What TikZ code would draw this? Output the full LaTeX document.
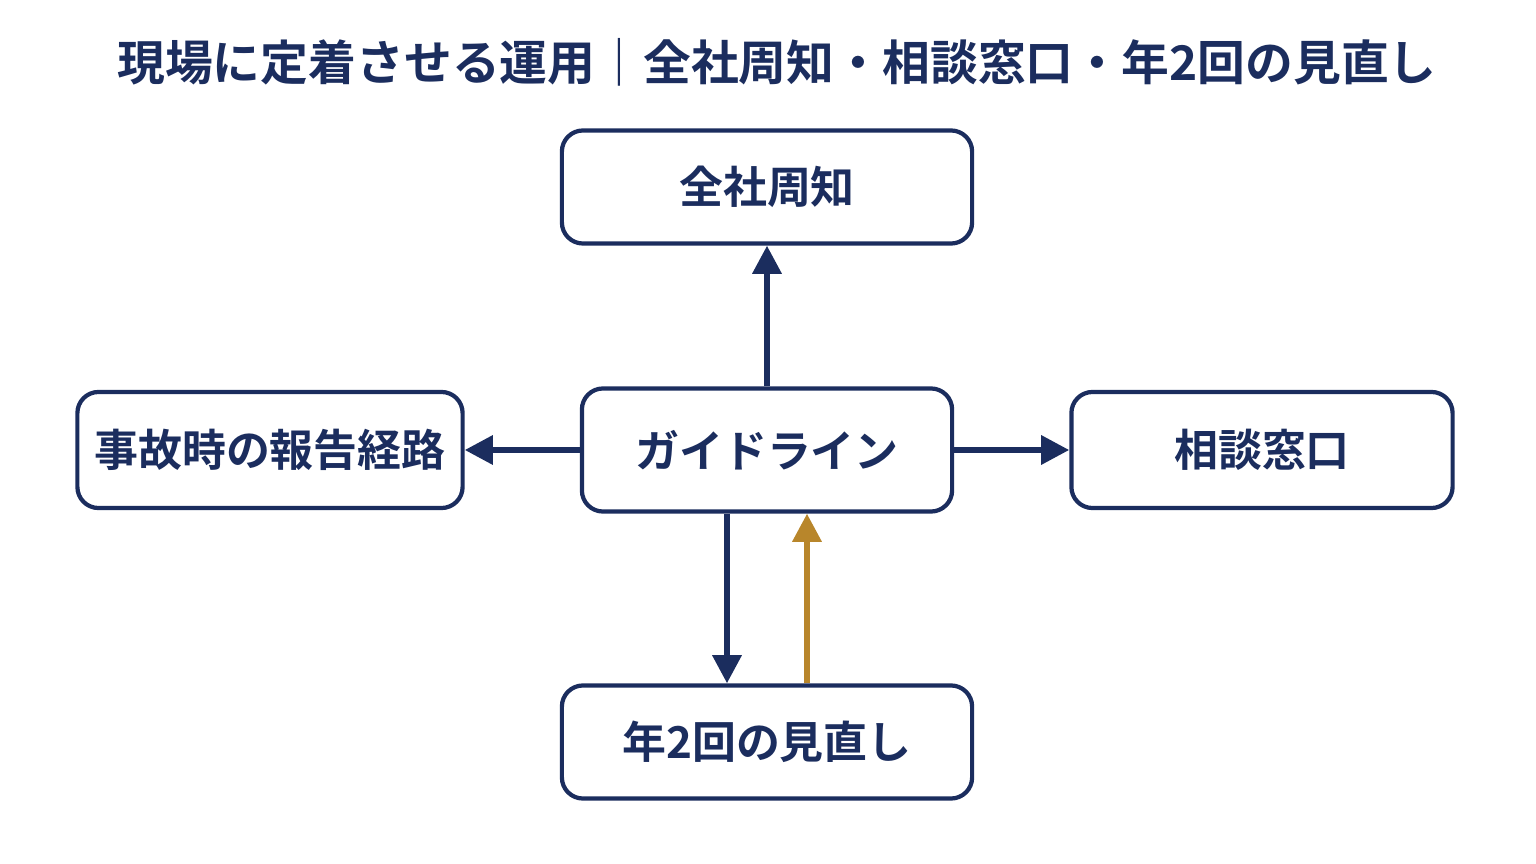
\documentclass[tikz,border=0pt]{standalone}
\usepackage{fontspec}
\setmainfont{Noto Sans CJK JP}[BoldFont={Noto Sans CJK JP Bold}]
\usetikzlibrary{arrows.meta}
\definecolor{navy}{HTML}{1B2D5E}
\definecolor{gold}{HTML}{B8862B}
\tikzset{
  box/.style={draw=navy, line width=1.2pt, rounded corners=6pt, fill=white,
    text=navy, font=\fontsize{12.5}{14}\selectfont\bfseries, align=center, inner sep=0pt},
  link/.style={navy, line width=1.7pt, -{Triangle[length=8pt,width=8pt]}},
}
\begin{document}
\begin{tikzpicture}[x=0.01cm, y=-0.01cm]
\useasboundingbox (0,0) rectangle (1536,864);
\node[text=navy, font=\fontsize{13.6}{15}\selectfont\bfseries] (title) at (777,62) {現場に定着させる運用｜全社周知・相談窓口・年2回の見直し};
% boxes
\node[box, minimum width=4.1cm, minimum height=1.13cm] (notice) at (767,187) {全社周知};
\node[box, minimum width=3.7cm, minimum height=1.23cm] (guide) at (767,450) {ガイドライン};
\node[box, minimum width=3.85cm, minimum height=1.16cm] (report) at (270,450) {事故時の報告経路};
\node[box, minimum width=3.81cm, minimum height=1.16cm] (desk) at (1262,450) {相談窓口};
\node[box, minimum width=4.1cm, minimum height=1.13cm] (review) at (767,742) {年2回の見直し};
% arrows
\draw[link] (guide) -- (notice);
\draw[link] (guide) -- (report);
\draw[link] (guide) -- (desk);
\draw[link] (guide.south -| 727,0) -- (review.north -| 727,0);
\draw[link, gold] (review.north -| 807,0) -- (guide.south -| 807,0);
\end{tikzpicture}
\end{document}
